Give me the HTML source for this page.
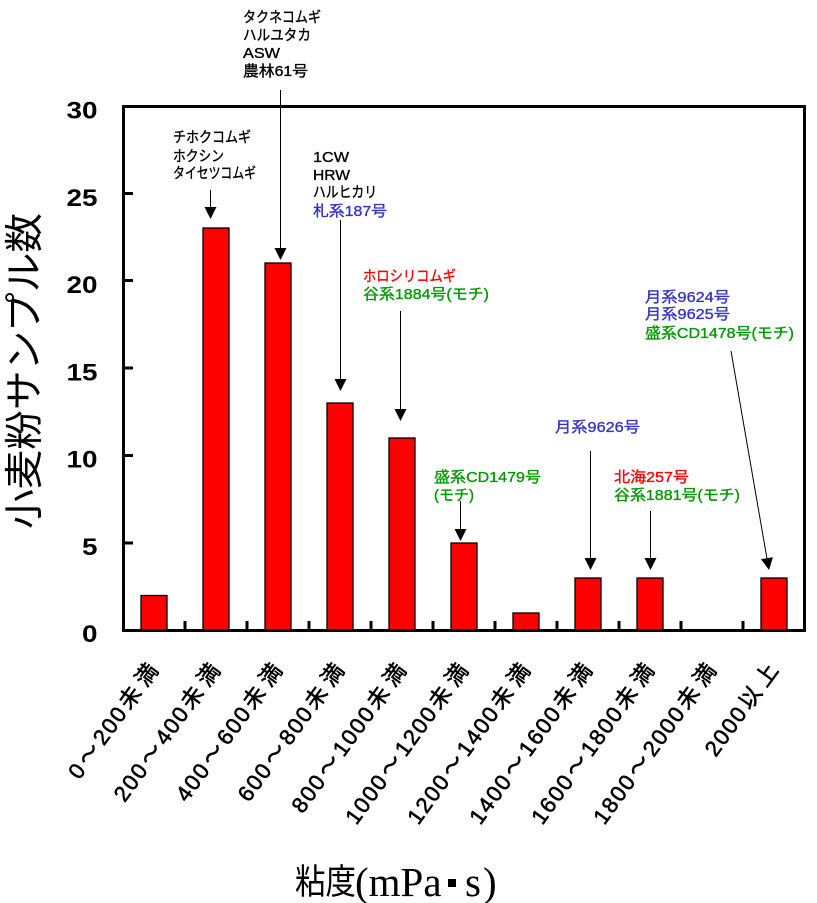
<!DOCTYPE html>
<html>
<head>
<meta charset="utf-8">
<style>
  html, body { margin: 0; padding: 0; background: #ffffff; }
  svg { display: block; }
  .a { font-family: "Liberation Sans", "Noto Sans CJK JP", sans-serif; font-size: 15px; stroke-width: 0.35px; }
  .xl { font-family: "Liberation Sans", "Noto Sans CJK JP", sans-serif; font-size: 22px; fill: #000; stroke: #000; stroke-width: 0.6px; }
  .yt { font-family: "Liberation Sans", sans-serif; font-size: 24px; font-weight: bold; fill: #000; }
  .cjk { font-family: "Noto Sans CJK JP", "Liberation Sans", sans-serif; }
  .ser { font-family: "Liberation Serif", "Noto Serif CJK SC", serif; }
</style>
</head>
<body>
<svg width="817" height="903" viewBox="0 0 817 903" xmlns="http://www.w3.org/2000/svg">
  <rect x="0" y="0" width="817" height="903" fill="#ffffff"/>

  <!-- Bars -->
  <g fill="#ff0000" stroke="#000000" stroke-width="1.3">
    <rect x="141" y="595.5" width="26" height="34.5"/>
    <rect x="203" y="228" width="26" height="402"/>
    <rect x="265" y="263" width="26" height="367"/>
    <rect x="327" y="403" width="26" height="227"/>
    <rect x="389" y="438" width="26" height="192"/>
    <rect x="451" y="543" width="26" height="87"/>
    <rect x="513" y="613" width="26" height="17"/>
    <rect x="575" y="578" width="26" height="52"/>
    <rect x="637" y="578" width="26" height="52"/>
    <rect x="761" y="578" width="26" height="52"/>
  </g>

  <!-- Frame -->
  <rect x="123.5" y="106.5" width="681" height="524" fill="none" stroke="#000" stroke-width="3"/>

  <!-- Y ticks -->
  <g stroke="#000" stroke-width="3">
    <line x1="125" y1="543" x2="133" y2="543"/>
    <line x1="125" y1="455.5" x2="133" y2="455.5"/>
    <line x1="125" y1="368" x2="133" y2="368"/>
    <line x1="125" y1="280.5" x2="133" y2="280.5"/>
    <line x1="125" y1="193.5" x2="133" y2="193.5"/>
  </g>

  <!-- X ticks -->
  <g stroke="#000" stroke-width="3">
    <line x1="185" y1="621" x2="185" y2="629"/>
    <line x1="247" y1="621" x2="247" y2="629"/>
    <line x1="309" y1="621" x2="309" y2="629"/>
    <line x1="371" y1="621" x2="371" y2="629"/>
    <line x1="433" y1="621" x2="433" y2="629"/>
    <line x1="495" y1="621" x2="495" y2="629"/>
    <line x1="557" y1="621" x2="557" y2="629"/>
    <line x1="619" y1="621" x2="619" y2="629"/>
    <line x1="681" y1="621" x2="681" y2="629"/>
    <line x1="743" y1="621" x2="743" y2="629"/>
  </g>

  <!-- Y tick labels -->
  <text class="yt" x="66.5" y="118.5" textLength="31" lengthAdjust="spacingAndGlyphs">30</text>
  <text class="yt" x="66.5" y="205.8" textLength="31" lengthAdjust="spacingAndGlyphs">25</text>
  <text class="yt" x="66.5" y="293" textLength="31" lengthAdjust="spacingAndGlyphs">20</text>
  <text class="yt" x="66.5" y="380.3" textLength="31" lengthAdjust="spacingAndGlyphs">15</text>
  <text class="yt" x="66.5" y="467.5" textLength="31" lengthAdjust="spacingAndGlyphs">10</text>
  <text class="yt" x="82" y="554.8" textLength="15.5" lengthAdjust="spacingAndGlyphs">5</text>
  <text class="yt" x="82" y="642" textLength="15.5" lengthAdjust="spacingAndGlyphs">0</text>

  <!-- Y axis title -->
  <text class="cjk" font-size="39" transform="translate(38,529) rotate(-90)" textLength="316" lengthAdjust="spacingAndGlyphs" fill="#000">小麦粉サンプル数</text>

  <!-- X axis title -->
  <text class="cjk" x="295" y="894" font-size="35" textLength="61" lengthAdjust="spacingAndGlyphs" fill="#000">粘度</text>
  <text class="ser" x="355" y="896" font-size="41" fill="#000">(mPa</text>
  <rect x="448" y="879" width="8" height="8" fill="#000"/>
  <text class="ser" x="465" y="896" font-size="41" fill="#000">s</text>
  <text class="ser" x="483" y="896" font-size="41" fill="#000">)</text>

  <!-- X category labels -->
  <g transform="translate(161,668) rotate(-54)">
    <text class="xl" x="-139.1 -123 -97.1 -83.1 -69.1 -53 -25" y="0">0～200未満</text>
  </g>
  <g transform="translate(223,668) rotate(-54)">
    <text class="xl" x="-167.1 -153.1 -139.1 -123 -97.1 -83.1 -69.1 -53 -25" y="0">200～400未満</text>
  </g>
  <g transform="translate(285,668) rotate(-54)">
    <text class="xl" x="-167.1 -153.1 -139.1 -123 -97.1 -83.1 -69.1 -53 -25" y="0">400～600未満</text>
  </g>
  <g transform="translate(347,668) rotate(-54)">
    <text class="xl" x="-167.1 -153.1 -139.1 -123 -97.1 -83.1 -69.1 -53 -25" y="0">600～800未満</text>
  </g>
  <g transform="translate(409,668) rotate(-54)">
    <text class="xl" x="-181.1 -167.1 -153.1 -137 -111.1 -97.1 -83.1 -69.1 -53 -25" y="0">800～1000未満</text>
  </g>
  <g transform="translate(471,668) rotate(-54)">
    <text class="xl" x="-195.1 -181.1 -167.1 -153.1 -137 -111.1 -97.1 -83.1 -69.1 -53 -25" y="0">1000～1200未満</text>
  </g>
  <g transform="translate(533,668) rotate(-54)">
    <text class="xl" x="-195.1 -181.1 -167.1 -153.1 -137 -111.1 -97.1 -83.1 -69.1 -53 -25" y="0">1200～1400未満</text>
  </g>
  <g transform="translate(595,668) rotate(-54)">
    <text class="xl" x="-195.1 -181.1 -167.1 -153.1 -137 -111.1 -97.1 -83.1 -69.1 -53 -25" y="0">1400～1600未満</text>
  </g>
  <g transform="translate(657,668) rotate(-54)">
    <text class="xl" x="-195.1 -181.1 -167.1 -153.1 -137 -111.1 -97.1 -83.1 -69.1 -53 -25" y="0">1600～1800未満</text>
  </g>
  <g transform="translate(719,668) rotate(-54)">
    <text class="xl" x="-195.1 -181.1 -167.1 -153.1 -137 -111.1 -97.1 -83.1 -69.1 -53 -25" y="0">1800～2000未満</text>
  </g>
  <g transform="translate(781,668) rotate(-54)">
    <text class="xl" x="-111.1 -97.1 -83.1 -69.1 -53 -25" y="0">2000以上</text>
  </g>

  <!-- Arrows -->
  <g stroke="#000" stroke-width="1">
    <line x1="210.5" y1="190" x2="210.5" y2="208"/>
    <line x1="280.5" y1="90" x2="280.5" y2="249"/>
    <line x1="340.5" y1="220" x2="340.5" y2="380"/>
    <line x1="400.5" y1="311" x2="400.5" y2="410"/>
    <line x1="460.5" y1="501" x2="460.5" y2="530"/>
    <line x1="590.5" y1="451" x2="590.5" y2="559"/>
    <line x1="650.5" y1="511" x2="650.5" y2="559"/>
    <line x1="731" y1="351" x2="766.9" y2="558.2"/>
  </g>
  <g fill="#000">
    <polygon points="204.5,207 216.5,207 210.5,219"/>
    <polygon points="274.5,248 286.5,248 280.5,260"/>
    <polygon points="334.5,379 346.5,379 340.5,391"/>
    <polygon points="394.5,409 406.5,409 400.5,421"/>
    <polygon points="454.5,529 466.5,529 460.5,541"/>
    <polygon points="584.5,558 596.5,558 590.5,570"/>
    <polygon points="644.5,558 656.5,558 650.5,570"/>
    <polygon points="772.9,557.2 761,559.2 769,570"/>
  </g>

  <!-- Annotation texts -->
  <g class="a">
    <text x="173" y="142" fill="#000" stroke="#000" textLength="78" lengthAdjust="spacingAndGlyphs">チホクコムギ</text>
    <text x="173" y="161" fill="#000" stroke="#000" textLength="51" lengthAdjust="spacingAndGlyphs">ホクシン</text>
    <text x="173" y="178" fill="#000" stroke="#000" textLength="83" lengthAdjust="spacingAndGlyphs">タイセツコムギ</text>

    <text x="243" y="22" fill="#000" stroke="#000" textLength="78" lengthAdjust="spacingAndGlyphs">タクネコムギ</text>
    <text x="243" y="40" fill="#000" stroke="#000" textLength="68" lengthAdjust="spacingAndGlyphs">ハルユタカ</text>
    <text x="243" y="58" fill="#000" stroke="#000" textLength="37" lengthAdjust="spacingAndGlyphs">ASW</text>
    <text x="243" y="76" fill="#000" stroke="#000" textLength="65" lengthAdjust="spacingAndGlyphs">農林61号</text>

    <text x="313" y="162" fill="#000" stroke="#000" textLength="36" lengthAdjust="spacingAndGlyphs">1CW</text>
    <text x="313" y="180" fill="#000" stroke="#000" textLength="37" lengthAdjust="spacingAndGlyphs">HRW</text>
    <text x="313" y="197" fill="#000" stroke="#000" textLength="64" lengthAdjust="spacingAndGlyphs">ハルヒカリ</text>
    <text x="313" y="216" fill="#3333cc" stroke="#3333cc" textLength="74" lengthAdjust="spacingAndGlyphs">札系187号</text>

    <text x="363" y="281" fill="#ff0000" stroke="#ff0000" textLength="93" lengthAdjust="spacingAndGlyphs">ホロシリコムギ</text>
    <text x="363" y="299" fill="#009900" stroke="#009900" textLength="126" lengthAdjust="spacingAndGlyphs">谷系1884号(モチ)</text>

    <text x="434" y="482" fill="#009900" stroke="#009900" textLength="107" lengthAdjust="spacingAndGlyphs">盛系CD1479号</text>
    <text x="434" y="500" fill="#009900" stroke="#009900" textLength="40" lengthAdjust="spacingAndGlyphs">(モチ)</text>

    <text x="555" y="432" fill="#3333cc" stroke="#3333cc" textLength="85" lengthAdjust="spacingAndGlyphs">月系9626号</text>

    <text x="614" y="482" fill="#ff0000" stroke="#ff0000" textLength="75" lengthAdjust="spacingAndGlyphs">北海257号</text>
    <text x="614" y="500" fill="#009900" stroke="#009900" textLength="126" lengthAdjust="spacingAndGlyphs">谷系1881号(モチ)</text>

    <text x="645" y="302" fill="#3333cc" stroke="#3333cc" textLength="85" lengthAdjust="spacingAndGlyphs">月系9624号</text>
    <text x="645" y="319" fill="#3333cc" stroke="#3333cc" textLength="85" lengthAdjust="spacingAndGlyphs">月系9625号</text>
    <text x="645" y="338" fill="#009900" stroke="#009900" textLength="149" lengthAdjust="spacingAndGlyphs">盛系CD1478号(モチ)</text>
  </g>
</svg>
</body>
</html>
